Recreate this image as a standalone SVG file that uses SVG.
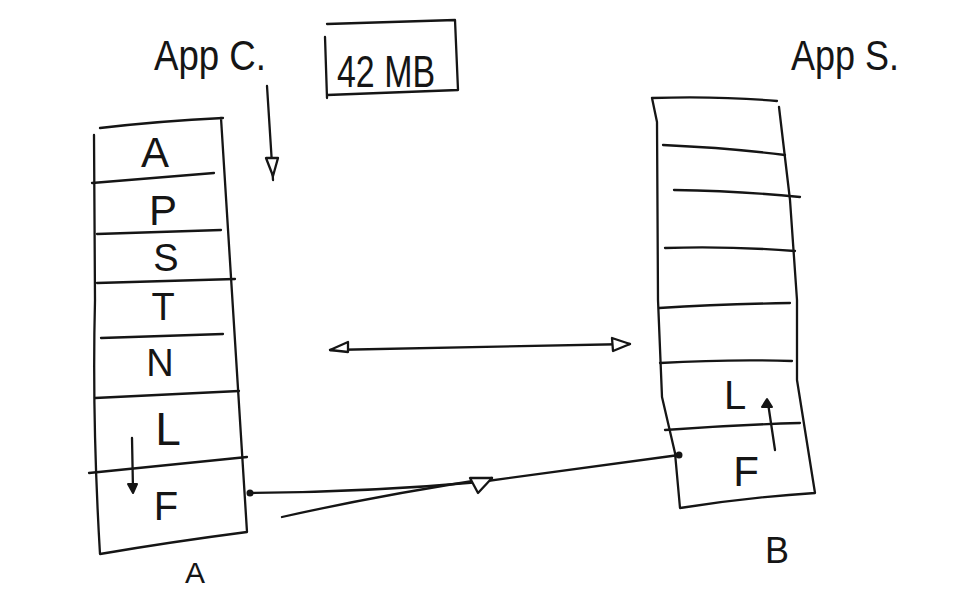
<svg xmlns="http://www.w3.org/2000/svg" width="970" height="593" viewBox="0 0 970 593">
<defs>
<style>
.s{fill:none;stroke:#151515;stroke-width:2.3;stroke-linecap:round;stroke-linejoin:round}
.t{font-family:"Liberation Sans","DejaVu Sans",sans-serif;fill:#151515;text-anchor:middle}
.h{fill:#fff;stroke:#151515;stroke-width:2.3;stroke-linejoin:round}
.f{fill:#151515;stroke:#151515;stroke-width:2;stroke-linejoin:round}
</style>
</defs>
<rect width="970" height="593" fill="#fff"/>
<g id="appC">
<text class="t" x="210" y="70" font-size="42" textLength="112" lengthAdjust="spacingAndGlyphs">App C.</text>
</g>
<g id="box42MB">
<path class="s" d="M327 24 L455 20 L458 90 L327 95 M325 37 L327 98"/>
<text class="t" x="386" y="87" font-size="44" textLength="98" lengthAdjust="spacingAndGlyphs">42 MB</text>
</g>
<g id="appS">
<text class="t" x="845" y="70" font-size="42" textLength="108" lengthAdjust="spacingAndGlyphs">App S.</text>
</g>
<g id="stackA">
<path class="s" d="M100 128 Q160 121 223 118 M94 135 L95 300 Q92 420 100 554 Q170 542 247 532 L221 118"/>
<path class="s" d="M92 183 L214 173 M97 234 L221 230 M97 283 L235 279 M101 338 L223 334 M95 398 L239 391 M89 473 Q170 465 247 457"/>
<text class="t" x="155" y="167" font-size="42">A</text>
<text class="t" x="163" y="225" font-size="42">P</text>
<text class="t" x="166" y="271" font-size="38">S</text>
<text class="t" x="163" y="320" font-size="38">T</text>
<text class="t" x="160" y="376" font-size="38">N</text>
<text class="t" x="168" y="445" font-size="46">L</text>
<text class="t" x="166" y="520" font-size="40">F</text>
</g>
<g id="labelA">
<text class="t" x="195" y="583" font-size="30">A</text>
</g>
<g id="stackB">
<path class="s" d="M652 98 Q720 96 777 101 M652 98 L657 122 L658 300 L662 397 L675 453 L680 508 Q750 497 815 493 L797 380 L797 300 L790 200 L779 107"/>
<path class="s" d="M663 145 Q730 148 785 155 M674 190 Q740 191 800 197 M665 248 Q730 246 795 251 M659 308 Q720 304 790 303 M660 363 Q730 359 792 361 M665 430 Q730 425 800 423"/>
<text class="t" x="735" y="409" font-size="40">L</text>
<text class="t" x="746" y="486" font-size="42">F</text>
</g>
<g id="labelB">
<text class="t" x="777" y="563" font-size="36">B</text>
</g>
<g id="connectors">
<path class="s" d="M267 86 L273 180"/>
<path class="h" d="M266 158 L278 158 L273 176 Z"/>
<path class="s" d="M330 350 L630 344"/>
<path class="h" d="M330 350 L348 342 L348 352 Z"/>
<path class="h" d="M630 344 L612 338 L613 351 Z"/>
<path class="s" d="M250 493 Q370 492 480 482 Q600 466 679 455"/>
<path class="s" d="M282 517 Q380 495 492 478"/>
<path class="h" d="M470 478 L492 478 L478 493 Z"/>
<circle class="f" cx="250" cy="493" r="2.5"/>
<circle class="f" cx="679" cy="455" r="2.5"/>
<path class="s" d="M132 438 L133 490"/>
<path class="f" d="M128 484 L137 484 L133 493 Z"/>
<path class="s" d="M775 450 L768 403"/>
<path class="f" d="M762 407 L772 407 L767 399 Z"/>
</g>
</svg>
